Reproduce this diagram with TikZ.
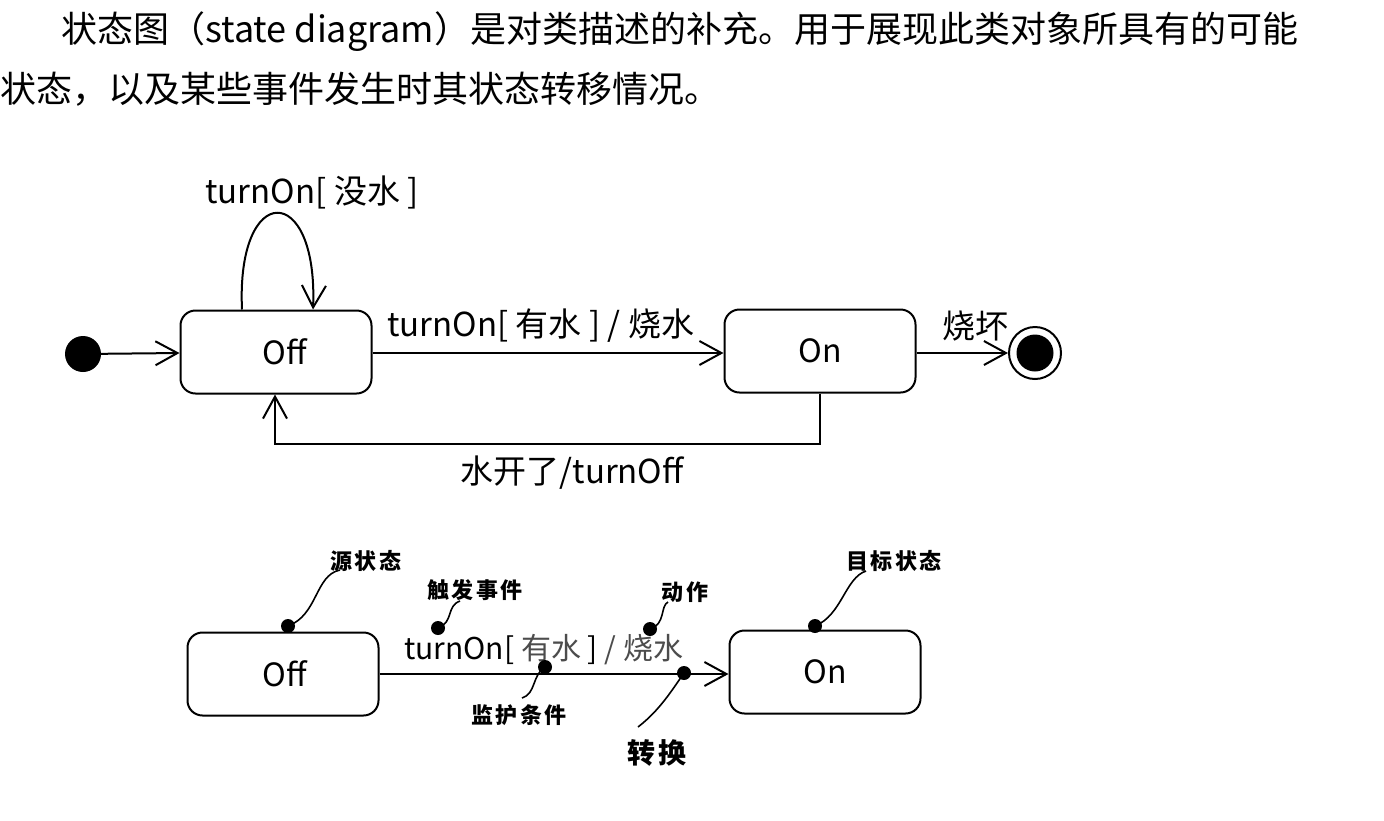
\documentclass[tikz,border=0pt]{standalone}
\usepackage{fontspec}
\setmainfont{Noto Sans CJK SC}
\newfontfamily\cjk{Noto Sans CJK SC}
\newfontfamily\cjkn[LetterSpace=12]{Noto Sans CJK SC}
\usetikzlibrary{arrows.meta}
\tikzset{
  statebox/.style={draw, line width=2pt, rounded corners=15pt, minimum width=191pt, minimum height=83pt, inner sep=0pt, font=\cjk\fontsize{32}{32}\selectfont},
  conn/.style={line width=2pt},
  barb/.style={-{Straight Barb[length=22pt,width=24pt,line width=2pt]}},
  lbl/.style={inner sep=0pt, font=\cjk\fontsize{33}{33}\selectfont},
  note/.style={inner sep=0pt, font=\cjkn\bfseries\fontsize{22}{22}\selectfont},
  pin/.style={circle, fill=black, inner sep=0pt, minimum size=14pt},
  lead/.style={line width=1.6pt},
}
\begin{document}
\begin{tikzpicture}[x=1pt,y=-1pt]
\useasboundingbox (0,0) rectangle (1384,820);
\fill[white] (0,0) rectangle (1384,820);
% header
\node[anchor=west, inner sep=0pt, font=\cjk\fontsize{36}{36}\selectfont] (h1) at (61,32) {状态图（state diagram）是对类描述的补充。用于展现此类对象所具有的可能};
\node[anchor=west, inner sep=0pt, font=\cjk\fontsize{36}{36}\selectfont] (h2) at (0,89) {状态，以及某些事件发生时其状态转移情况。};
% top diagram
\node[circle, fill=black, minimum size=36pt, inner sep=0pt] (init) at (83,354) {};
\node[statebox] (off) at (276,352) {\hspace*{18pt}Off};
\node[statebox] (on) at (820,351) {On};
\node[circle, draw, line width=2pt, minimum size=52pt, inner sep=0pt] (fin) at (1035,353) {};
\node[circle, fill=black, minimum size=37pt, inner sep=0pt] (finin) at (1035,353) {};
\draw[conn,barb] (init) -- (off);
\draw[conn,barb] (off.east |- 0,353) coordinate (o1) -- (on.west |- o1);
\node[lbl, anchor=south west] (t1) at (387,343) {turnOn[ 有水 ] / 烧水};
\draw[conn,barb] (on.east |- 0,353) coordinate (o2) -- (fin.west |- o2);
\node[lbl, anchor=south west] (t2) at (942,341) {烧坏};
\coordinate (lpA) at (242,310);
\coordinate (lpB) at (313,310);
\draw[conn,barb] (lpA |- off.north) .. controls (236,181) and (318,181) .. (lpB |- off.north);
\node[lbl] (t3) at (312,192) {turnOn[ 没水 ]};
\coordinate (r1) at (820,444);
\coordinate (r2) at (275,444);
\draw[conn,barb] (r1 |- on.south) -- (r1) -- (r2) -- (r2 |- off.south);
\node[lbl] (t4) at (572,473) {水开了/turnOff};
% bottom diagram
\node[statebox] (off2) at (283,674) {\hspace*{4pt}Off};
\node[statebox] (on2) at (825,672) {On};
\draw[conn,barb] (off2.east |- 0,674) coordinate (o3) -- (on2.west |- o3);
\node[lbl, anchor=south west, font=\cjk\fontsize{30}{30}\selectfont] (t5) at (404,665) {turnOn[ {\color{black!70}有水} ] {\color{black!70}/ 烧水}};
% annotations
\node[pin] (p1) at (288,626) {};
\node[pin] (p2) at (438,628) {};
\node[pin] (p3) at (545,667) {};
\node[pin] (p4) at (650,629) {};
\node[pin] (p5) at (684,673) {};
\node[pin] (p6) at (815,626) {};
\coordinate (e1) at (340,570);
\coordinate (e2) at (460,601);
\coordinate (e3) at (522,698);
\coordinate (e4) at (668,602);
\coordinate (e5) at (638,727);
\coordinate (e6) at (866,571);
\draw[lead] (p1.center) .. controls (318,615) and (315,575) .. (e1);
\draw[lead] (p2.center) .. controls (454,622) and (446,606) .. (e2);
\draw[lead] (p3.center) .. controls (532,675) and (536,694) .. (e3);
\draw[lead] (p4.center) .. controls (666,624) and (660,606) .. (e4);
\draw[lead] (p5.center) .. controls (672,690) and (660,710) .. (e5);
\draw[lead] (p6.center) .. controls (842,615) and (845,578) .. (e6);
\node[note] (n1) at (366,561) {源状态};
\node[note] (n2) at (475,590) {触发事件};
\node[note] (n3) at (519,715) {监护条件};
\node[note] (n4) at (685,592) {动作};
\node[note] (n5) at (894,561) {目标状态};
\node[note, font=\cjkn\bfseries\fontsize{28}{28}\selectfont] (n6) at (657,753) {转换};
\end{tikzpicture}
\end{document}
